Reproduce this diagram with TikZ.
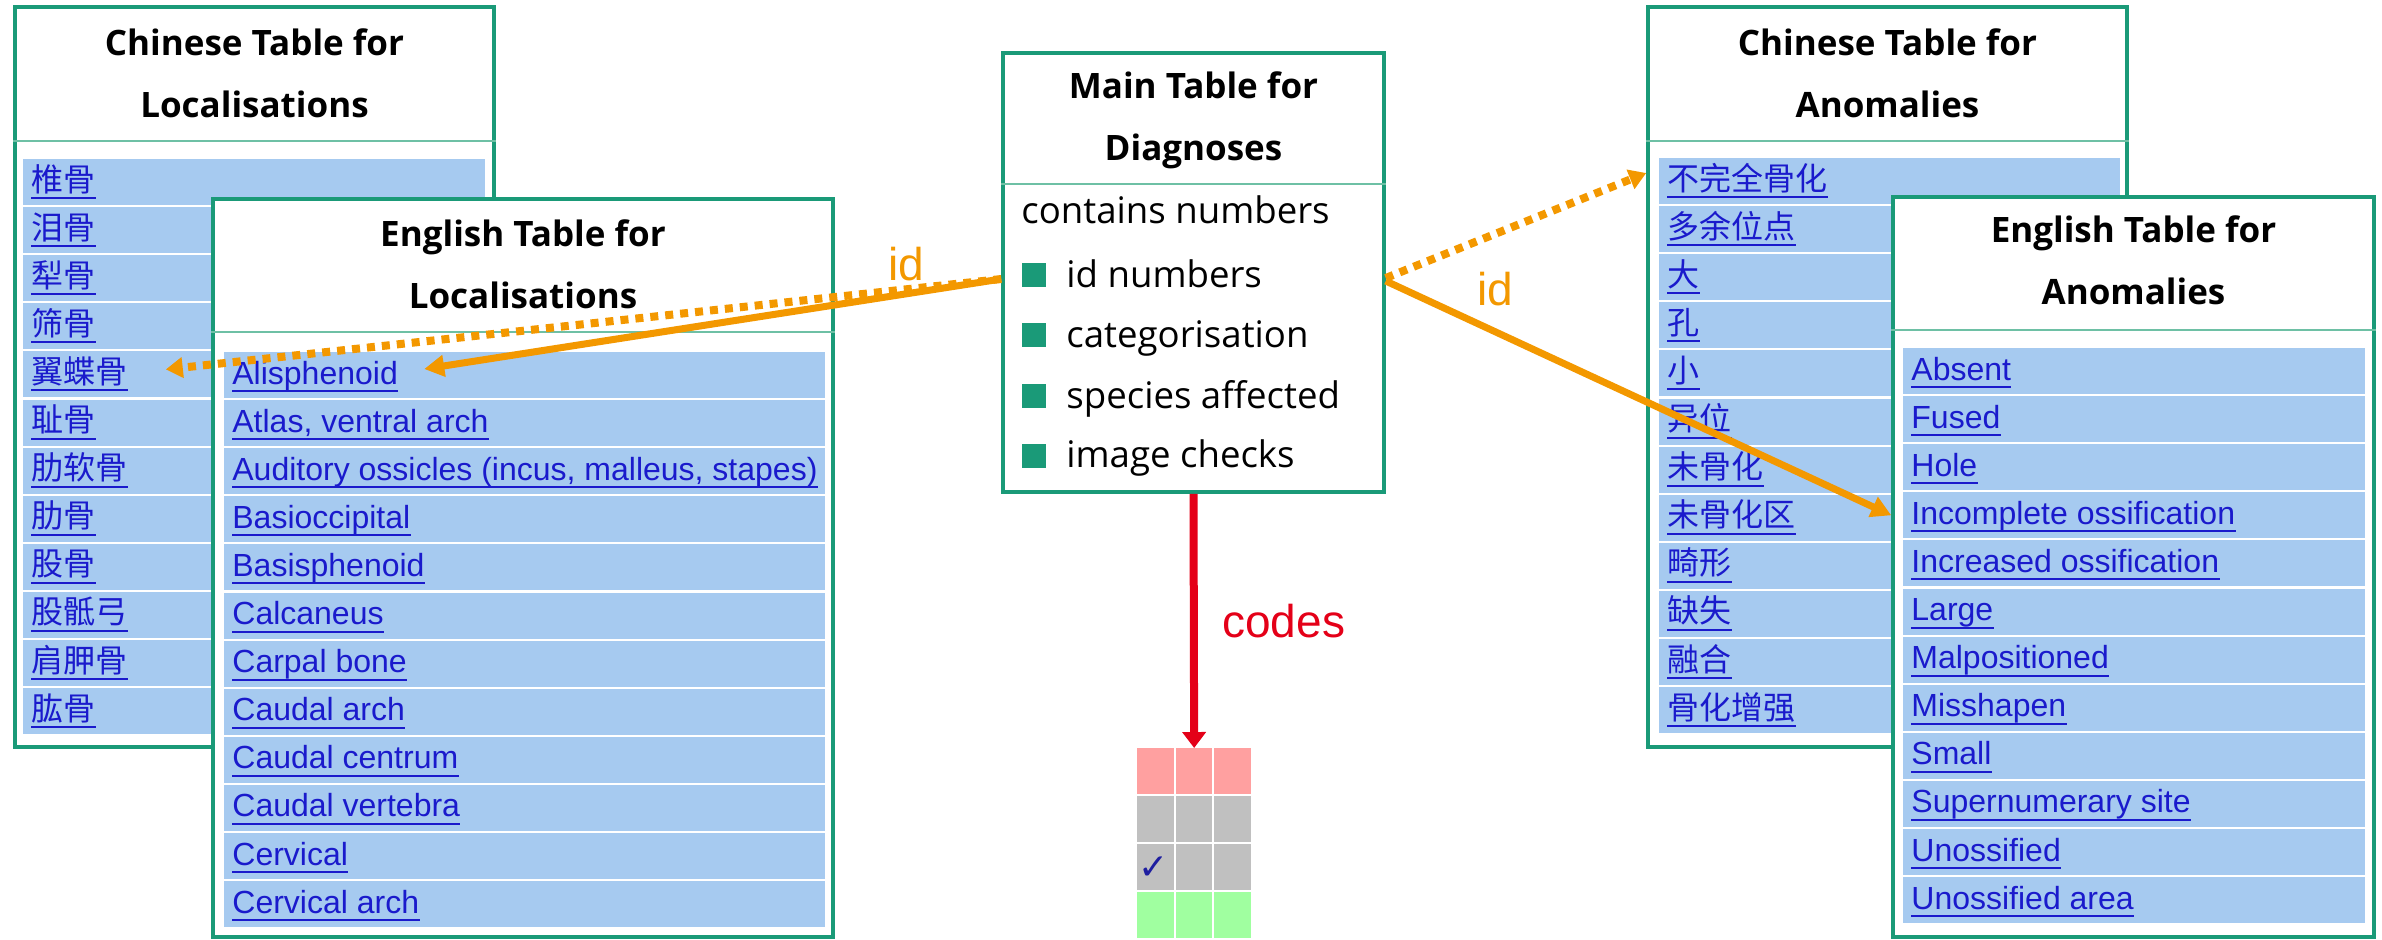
\documentclass[tikz,border=0pt]{standalone}
\usepackage{fontspec}
\setmainfont{Open Sans}
\newfontfamily\linkfont{Liberation Sans}
\newfontfamily\cjkfont{Noto Sans CJK SC}
\newfontfamily\symf{DejaVu Sans}
\usetikzlibrary{arrows.meta,calc,fit}
\definecolor{tgreen}{RGB}{26,154,120}
\definecolor{sepgreen}{RGB}{110,192,165}
\definecolor{rowblue}{RGB}{166,202,240}
\definecolor{linkblue}{RGB}{26,26,204}
\definecolor{orng}{RGB}{243,152,0}
\definecolor{cred}{RGB}{228,0,24}
\definecolor{cpink}{RGB}{255,160,160}
\definecolor{cgray}{RGB}{192,192,192}
\definecolor{cgreen}{RGB}{160,255,160}
\definecolor{navy}{RGB}{30,30,160}
\tikzset{
  tbl/.style={draw=tgreen, line width=1.75pt, fill=white, inner sep=0pt},
  sepl/.style={draw=sepgreen, line width=1pt},
  ttl/.style={font=\bfseries\fontsize{17.5}{20}\selectfont, inner sep=0pt, anchor=base},
  body/.style={font=\fontsize{18.3}{21}\selectfont, inner sep=0pt, anchor=base west},
  rowbox/.style={fill=rowblue, draw=none, inner sep=0pt},
  link/.style={font=\linkfont\fontsize{16}{18}\selectfont, text=linkblue, inner sep=0pt, anchor=base west},
  uline/.style={draw=linkblue, line width=1pt},
  bulletbox/.style={fill=tgreen, draw=none, minimum size=12pt, inner sep=0pt},
  osolid/.style={draw=orng, line width=3.5pt, -{Triangle[length=10pt,width=10.5pt]}},
  odot/.style={draw=orng, line width=4pt, dash pattern=on 4pt off 3.5pt, -{Triangle[length=8.5pt,width=10pt]}},
  redarr/.style={draw=cred, line width=4pt, -{Triangle[length=8pt,width=11.5pt]}},
  lbl/.style={font=\linkfont\fontsize{23}{26}\selectfont, inner sep=0pt, anchor=base west},
  cellbox/.style={draw=none, inner sep=0pt, minimum width=18.25pt, minimum height=23pt, anchor=north west}
}
\newcommand\tablerows[6]{%
  \foreach \txt [count=\i] in {#6} {%
    \pgfmathsetmacro\ytop{#4+(\i-1)*48.1}
    \node[rowbox, fit={(#2,\ytop) (#3,\ytop+46)}] (#1-\i) {};
    \node[link] (#1-\i-t) at ({#2+8},{\ytop+32}) {#5\txt};
    \draw[uline] ([yshift=-3.5pt]#1-\i-t.base west) -- ([yshift=-3.5pt]#1-\i-t.base east);
  }}
\begin{document}
\begin{tikzpicture}[x=0.5pt,y=-0.5pt]
\useasboundingbox (0,0) rectangle (2382,939);
\clip (0,0) rectangle (2382,939);

% Chinese table for localisations
\node[tbl, fit={(15,7) (494,747)}] (locZH) {};
\draw[sepl] (locZH.west |- 0,141) -- (locZH.east |- 0,141);
\node[ttl] (locZH-h1) at (254.5,55) {Chinese Table for};
\node[ttl] (locZH-h2) at (254.5,117) {Localisations};
\tablerows{locZH}{23}{485}{159}{\cjkfont}{椎骨,泪骨,犁骨,筛骨,翼蝶骨,耻骨,肋软骨,肋骨,股骨,股骶弓,肩胛骨,肱骨}

% English table for localisations
\node[tbl, fit={(213,199) (833,937)}] (locEN) {};
\draw[sepl] (locEN.west |- 0,332) -- (locEN.east |- 0,332);
\node[ttl] (locEN-h1) at (523,246) {English Table for};
\node[ttl] (locEN-h2) at (523,308) {Localisations};
\tablerows{locEN}{224}{825}{352}{}{Alisphenoid,{Atlas, ventral arch},{Auditory ossicles (incus, malleus, stapes)},Basioccipital,Basisphenoid,Calcaneus,Carpal bone,Caudal arch,Caudal centrum,Caudal vertebra,Cervical,Cervical arch}

% Chinese table for anomalies
\node[tbl, fit={(1648,7) (2127,747)}] (anZH) {};
\draw[sepl] (anZH.west |- 0,141) -- (anZH.east |- 0,141);
\node[ttl] (anZH-h1) at (1887.5,55) {Chinese Table for};
\node[ttl] (anZH-h2) at (1887.5,117) {Anomalies};
\tablerows{anZH}{1659}{2120}{158}{\cjkfont}{不完全骨化,多余位点,大,孔,小,异位,未骨化,未骨化区,畸形,缺失,融合,骨化增强}

% English table for anomalies
\node[tbl, fit={(1893,197) (2374,937)}] (anEN) {};
\draw[sepl] (anEN.west |- 0,330) -- (anEN.east |- 0,330);
\node[ttl] (anEN-h1) at (2133.5,242) {English Table for};
\node[ttl] (anEN-h2) at (2133.5,304) {Anomalies};
\tablerows{anEN}{1903}{2365}{348}{}{Absent,Fused,Hole,Incomplete ossification,Increased ossification,Large,Malpositioned,Misshapen,Small,Supernumerary site,Unossified,Unossified area}

% Main table
\node[tbl, fit={(1003,53) (1384,492)}] (main) {};
\draw[sepl] (main.west |- 0,184) -- (main.east |- 0,184);
\node[ttl] (main-h1) at (1193.5,98) {Main Table for};
\node[ttl] (main-h2) at (1193.5,160) {Diagnoses};
\node[body] (main-b0) at (1021,223) {contains numbers};
\node[bulletbox] (bul1) at (1034,275) {};
\node[bulletbox] (bul2) at (1034,335) {};
\node[bulletbox] (bul3) at (1034,396) {};
\node[bulletbox] (bul4) at (1034,456) {};
\node[body] (main-b1) at (1066,287) {id numbers};
\node[body] (main-b2) at (1066,347) {categorisation};
\node[body] (main-b3) at (1066,408) {species affected};
\node[body] (main-b4) at (1066,467) {image checks};

% connectors
\coordinate (mainL) at (main.west |- 0,279);
\coordinate (mainR) at (main.east |- 0,278);
\coordinate (mainR2) at (main.east |- 0,281);
\coordinate (tipLZH) at ($(locZH-5-t.east |- locZH-5.center)+(38,-5)$);
\coordinate (tipLEN) at ($(locEN-1-t.east |- locEN-1.center)+(26,-6)$);
\coordinate (tipAZH) at ($(anZH.west |- anZH-1.center)+(0,-8)$);
\coordinate (tipAEN) at (anEN.west |- anEN-4.center);
\draw[odot] (mainL) -- (tipLZH);
\draw[osolid] (mainL) -- (tipLEN);
\draw[odot] (mainR) -- (tipAZH);
\draw[osolid] (mainR2) -- (tipAEN);
\node[lbl, text=orng] (idL) at (888,280) {id};
\node[lbl, text=orng] (idR) at (1477,305) {id};

% codes grid
\foreach \r/\col in {1/cpink,2/cgray,3/cgray,4/cgreen} {
  \foreach \c in {1,2,3} {
    \node[cellbox, fill=\col] (cell-\r-\c) at ({1137+(\c-1)*38.5},{748+(\r-1)*48}) {};
  }
}
\node[font=\symf\bfseries\fontsize{18}{18}\selectfont, text=navy, inner sep=0pt] (check) at ($(cell-3-1)+(-2,1)$) {✓};
\draw[redarr] (main.south) -- (cell-1-2.north);
\node[lbl, text=cred] (codes) at (1222,637) {codes};
\end{tikzpicture}
\end{document}
